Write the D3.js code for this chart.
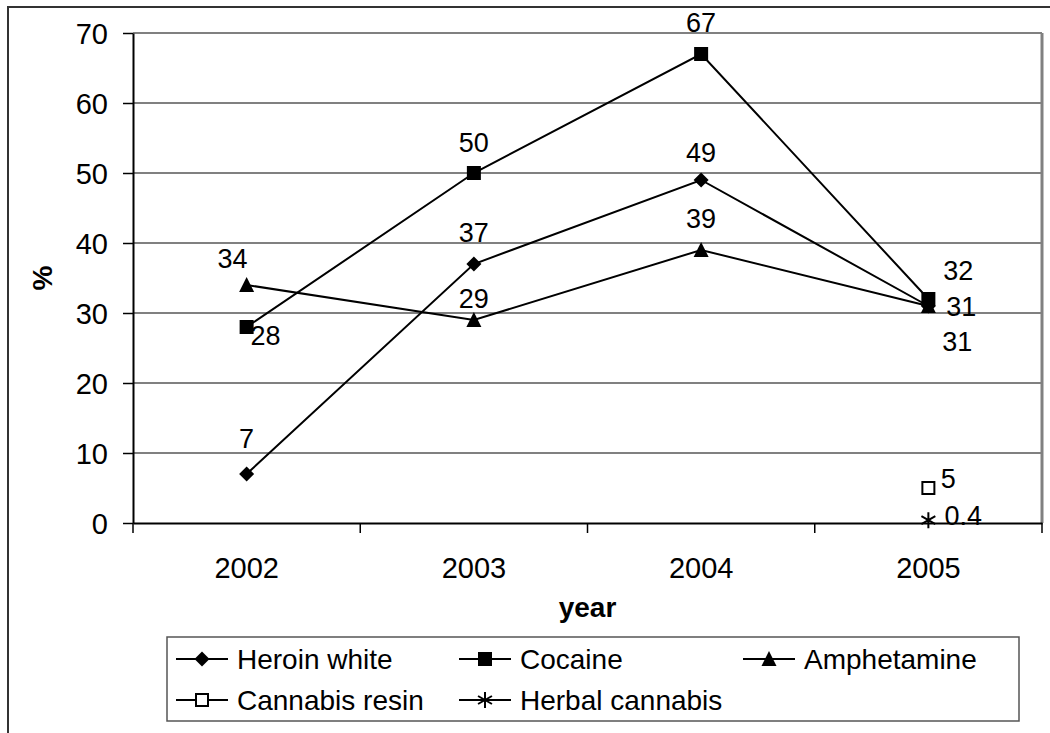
<!DOCTYPE html>
<html>
<head>
<meta charset="utf-8">
<script src="https://cdn.jsdelivr.net/npm/d3@7"></script>
<style>
body { margin:0; background:#fff; }
text { font-family: "Liberation Sans", Arial, sans-serif; fill:#000; }
</style>
</head>
<body>
<div id="chart"></div>
<script>
var years = ["2002", "2003", "2004", "2005"];
var seriesNames = ["Heroin white", "Cocaine", "Amphetamine", "Cannabis resin", "Herbal cannabis"];
var heroinWhite = [7, 37, 49, 31];
var cocaine = [28, 50, 67, 32];
var amphetamine = [34, 29, 39, 31];
var cannabisResin = [null, null, null, 5];
var herbalCannabis = [null, null, null, 0.4];
var yTicks = [0, 10, 20, 30, 40, 50, 60, 70];
var yTitle = "%";
var xTitle = "year";

// label offsets (dx, dy of label centre from marker), per series per year
var labelOffsets = [
	[[0,-36],[0,-32],[0,-28],[29,35]],
	[[19,8],[0,-31],[0,-32],[30,-29]],
	[[-14,-27],[0,-22],[0,-32],[33,0]],
	[null,null,null,[20,-10]],
	[null,null,null,[35,-5]]
];

var W = 1050, H = 733;
var pLeft = 133, pRight = 1042, pTop = 33, pBottom = 523;

var svg = d3.select("#chart").append("svg").attr("width", W).attr("height", H);

// outer chart border
svg.append("rect").attr("x", 8).attr("y", 7).attr("width", 1060).attr("height", 760)
	.attr("fill", "none").attr("stroke", "#333").attr("stroke-width", 2);

var x = d3.scaleBand().domain(years).range([pLeft, pRight]);
var y = d3.scaleLinear().domain([0, 70]).range([pBottom, pTop]);

// gridlines
svg.selectAll("line.grid").data(yTicks.filter(function(d){ return d > 0; })).enter().append("line")
	.attr("class", "grid")
	.attr("x1", pLeft).attr("x2", pRight)
	.attr("y1", function(d){ return y(d); }).attr("y2", function(d){ return y(d); })
	.attr("stroke", "#808080").attr("stroke-width", 2);

// plot area right border
svg.append("line").attr("x1", pRight).attr("x2", pRight).attr("y1", pTop).attr("y2", pBottom)
	.attr("stroke", "#808080").attr("stroke-width", 3);

// y axis
var yAxis = svg.append("g").attr("transform", "translate(" + pLeft + ",0)")
	.call(d3.axisLeft(y).tickValues(yTicks).tickSize(10).tickPadding(15).tickSizeOuter(0));
yAxis.select(".domain").attr("stroke", "#000").attr("stroke-width", 2);
yAxis.selectAll(".tick line").attr("stroke", "#000").attr("stroke-width", 1.5);
yAxis.selectAll(".tick text").attr("font-size", 29).attr("font-family", "Liberation Sans, Arial, sans-serif").attr("dy", "0.36em");

// x axis
var xAxis = svg.append("g").attr("transform", "translate(0," + pBottom + ")")
	.call(d3.axisBottom(x).tickSize(0).tickPadding(34).tickSizeOuter(0));
xAxis.select(".domain").attr("stroke", "#000").attr("stroke-width", 2);
xAxis.selectAll(".tick text").attr("font-size", 29).attr("font-family", "Liberation Sans, Arial, sans-serif");
var bounds = years.map(function(d){ return x(d); }).concat([x.range()[1]]);
svg.selectAll("line.xtick").data(bounds).enter().append("line")
	.attr("class", "xtick")
	.attr("x1", function(d){ return d; }).attr("x2", function(d){ return d; })
	.attr("y1", pBottom).attr("y2", pBottom + 10)
	.attr("stroke", "#000").attr("stroke-width", 1.5);

// axis titles
svg.append("text").text(xTitle).attr("x", (pLeft + pRight) / 2).attr("y", 617)
	.attr("text-anchor", "middle").attr("font-size", 28).attr("font-weight", "bold");
svg.append("text").text(yTitle).attr("transform", "translate(52," + ((pTop + pBottom) / 2) + ") rotate(-90)")
	.attr("text-anchor", "middle").attr("font-size", 28).attr("font-weight", "bold");

// marker shapes
function marker(g, type, cx, cy)
{
	if(type == 0)
		g.append("path").attr("d", "M" + cx + " " + (cy-7.5) + "L" + (cx+7.5) + " " + cy + "L" + cx + " " + (cy+7.5) + "L" + (cx-7.5) + " " + cy + "Z").attr("fill", "#000");
	else if(type == 1)
		g.append("rect").attr("x", cx-7).attr("y", cy-7).attr("width", 14).attr("height", 14).attr("fill", "#000");
	else if(type == 2)
		g.append("path").attr("d", "M" + cx + " " + (cy-8) + "L" + (cx+7.5) + " " + (cy+7) + "L" + (cx-7.5) + " " + (cy+7) + "Z").attr("fill", "#000");
	else if(type == 3)
		g.append("rect").attr("x", cx-6).attr("y", cy-6).attr("width", 12).attr("height", 12).attr("fill", "#fff").attr("stroke", "#000").attr("stroke-width", 2);
	else
	{
		var r = 8;
		var s = "M" + cx + " " + (cy-r) + "L" + cx + " " + (cy+r);
		s += "M" + (cx-r*0.87) + " " + (cy-r*0.5) + "L" + (cx+r*0.87) + " " + (cy+r*0.5);
		s += "M" + (cx-r*0.87) + " " + (cy+r*0.5) + "L" + (cx+r*0.87) + " " + (cy-r*0.5);
		g.append("path").attr("d", s).attr("stroke", "#000").attr("stroke-width", 2).attr("fill", "none");
	}
}

var allSeries = [heroinWhite, cocaine, amphetamine, cannabisResin, herbalCannabis];
var cx = function(i){ return x(years[i]) + x.bandwidth() / 2; };

var line = d3.line()
	.defined(function(d){ return d != null; })
	.x(function(d, i){ return cx(i); })
	.y(function(d){ return y(d); });

allSeries.forEach(function(vals, s)
{
	svg.append("path").attr("d", line(vals)).attr("fill", "none").attr("stroke", "#000").attr("stroke-width", 2);
});

allSeries.forEach(function(vals, s)
{
	var g = svg.append("g");
	vals.forEach(function(v, i)
	{
		if(v == null) return;
		marker(g, s, cx(i), y(v));
	});
});

allSeries.forEach(function(vals, s)
{
	vals.forEach(function(v, i)
	{
		if(v == null) return;
		var o = labelOffsets[s][i];
		svg.append("text").text(v)
			.attr("x", cx(i) + o[0]).attr("y", y(v) + o[1])
			.attr("dy", "0.36em").attr("text-anchor", "middle").attr("font-size", 27);
	});
});

// legend
svg.append("rect").attr("x", 167).attr("y", 637).attr("width", 852).attr("height", 84)
	.attr("fill", "#fff").attr("stroke", "#555").attr("stroke-width", 1.5);
var legX = [176, 459, 743];
var legY = [659, 700];
seriesNames.forEach(function(name, s)
{
	var lx = legX[s % 3], ly = legY[Math.floor(s / 3)];
	var g = svg.append("g");
	g.append("line").attr("x1", lx).attr("x2", lx + 52).attr("y1", ly).attr("y2", ly)
		.attr("stroke", "#000").attr("stroke-width", 2);
	marker(g, s, lx + 26, ly);
	g.append("text").text(name).attr("x", lx + 61).attr("y", ly).attr("dy", "0.36em").attr("font-size", 28);
});
</script>
</body>
</html>
